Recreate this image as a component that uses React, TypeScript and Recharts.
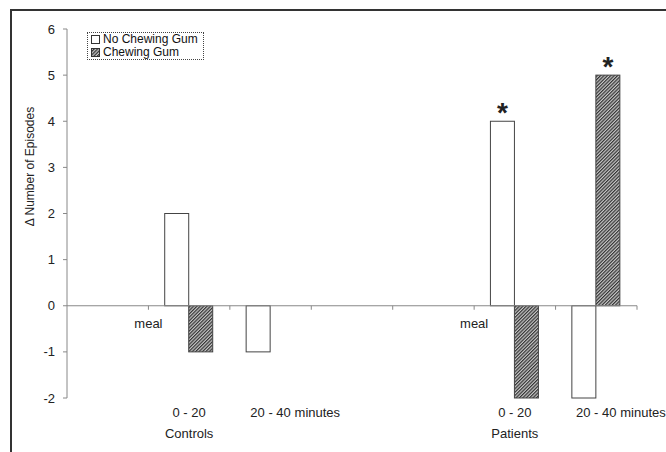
import { BarChart, Bar, XAxis, YAxis, ReferenceLine, Legend, Label } from 'recharts';

const FONT = '"Liberation Sans", Arial, sans-serif';

// one slot per x-axis band; empty slots keep the spacing of the original figure
const periods = ['', '0 - 20', '20 - 40', '', '', '0 - 20', '20 - 40'];
const periodSuffix = ['', '', 'minutes', '', '', '', 'minutes'];
const groups = ['', 'Controls', '', '', '', 'Patients', ''];
const mealBefore = [false, true, false, false, false, true, false];

const noGum = [null, 2, -1, null, null, 4, -2];
const gum = [null, -1, 0, null, null, -2, 5];
const noGumStar = [false, false, false, false, false, true, false];
const gumStar = [false, false, false, false, false, false, true];

const yTicks = [-2, -1, 0, 1, 2, 3, 4, 5, 6];

const chartData = periods.map((p, i) => ({
  slot: i,
  period: p,
  noGum: noGum[i],
  gum: gum[i],
}));

const PeriodTick = ({ x, y, index }: any) => (
  <g fontFamily={FONT} fontSize={13} fill="#222">
    {periods[index] && (
      <text x={x} y={y + 19} textAnchor="middle">
        {periods[index]}
      </text>
    )}
    {periodSuffix[index] && (
      <text x={x + 24} y={y + 19} textAnchor="start">
        {periodSuffix[index]}
      </text>
    )}
    {groups[index] && (
      <text x={x} y={y + 40} textAnchor="middle">
        {groups[index]}
      </text>
    )}
  </g>
);

// zero line with the band boundary ticks and the "meal" markers
const ZeroAxis = (props: any) => {
  const { x1, x2, y1 } = props;
  const step = (x2 - x1) / chartData.length;
  return (
    <g>
      <line x1={x1} x2={x2} y1={y1} y2={y1} stroke="#888" />
      {chartData.map((d, i) => (
        <line key={i} x1={x1 + (i + 1) * step} x2={x1 + (i + 1) * step} y1={y1} y2={y1 + 4} stroke="#888" />
      ))}
      {mealBefore.map((m, i) =>
        m ? (
          <text key={'m' + i} x={x1 + i * step} y={y1 + 22} textAnchor="middle" fontFamily={FONT} fontSize={13} fill="#222">
            meal
          </text>
        ) : null
      )}
    </g>
  );
};

// bar rectangle plus an asterisk above the significant ones
const makeBarShape = (flags: boolean[]) => (props: any) => {
  const { x, y, width, height, fill, stroke, payload } = props;
  if (x == null || y == null || !height) return <g />;
  const slot = payload ? payload.slot : props.index;
  const top = Math.min(y, y + height);
  const h = Math.abs(height);
  return (
    <g>
      <rect x={x} y={top} width={width} height={h} fill={fill} stroke={stroke} />
      {flags[slot] && (
        <text x={x + width / 2} y={top + 1} textAnchor="middle" fontFamily={FONT} fontSize={28} fontWeight="bold" fill="#222">
          *
        </text>
      )}
    </g>
  );
};

const YLabel = ({ viewBox }: any) => {
  const cx = viewBox.x + 30;
  const cy = viewBox.y + viewBox.height / 2 - 47;
  return (
    <text x={cx} y={cy} transform={`rotate(-90 ${cx} ${cy})`} textAnchor="middle" dominantBaseline="central" fontFamily={FONT} fontSize={12} fill="#222">
      Δ Number of Episodes
    </text>
  );
};

const legendItems = [
  { label: 'No Chewing Gum', fill: '#fff' },
  { label: 'Chewing Gum', fill: 'url(#hatchSmall)' },
];

const HatchDef = ({ id }: { id: string }) => (
  <pattern id={id} patternUnits="userSpaceOnUse" width={2.4} height={2.4} patternTransform="rotate(45)">
    <rect width={2.4} height={2.4} fill="#c8c8c8" />
    <line x1={0.6} y1={0} x2={0.6} y2={2.4} stroke="#333" strokeWidth={1.2} />
  </pattern>
);

const GumLegend = () => (
  <div style={{ border: '1px dotted #444', padding: '0px 5px 0px 3px', fontFamily: FONT, fontSize: 12, lineHeight: '13px', color: '#111', background: '#fff' }}>
    <svg width={0} height={0} style={{ position: 'absolute' }}>
      <defs>
        <HatchDef id="hatchSmall" />
      </defs>
    </svg>
    {legendItems.map((it) => (
      <div key={it.label} style={{ display: 'flex', alignItems: 'center', whiteSpace: 'nowrap', height: 13 }}>
        <svg width={9} height={9} style={{ marginRight: 3 }}>
          <rect x={0.5} y={0.5} width={8} height={8} fill={it.fill} stroke="#333" />
        </svg>
        {it.label}
      </div>
    ))}
  </div>
);

export default function App() {
  return (
    <div style={{ position: 'absolute', left: 0, top: 0, width: 666, height: 452, overflow: 'hidden', background: '#fff' }}>
      <div style={{ position: 'absolute', left: 10, top: 9, width: 700, height: 500, borderTop: '2px solid #333', borderLeft: '2px solid #333' }} />
      <div style={{ position: 'absolute', left: 0, top: 0 }}>
        <BarChart
          width={666}
          height={452}
          data={chartData}
          margin={{ top: 29, right: 29, bottom: 0, left: 0 }}
          barCategoryGap="20%"
          barGap={0}
        >
          <defs>
            <HatchDef id="hatch" />
          </defs>
          <XAxis dataKey="slot" axisLine={false} tickLine={false} tickSize={0} tickMargin={0} height={54} interval={0} tick={<PeriodTick />} />
          <YAxis
            domain={[-2, 6]}
            ticks={yTicks}
            interval={0}
            width={67}
            tickSize={4}
            tickMargin={8}
            axisLine={{ stroke: '#888' }}
            tickLine={{ stroke: '#888' }}
            tick={{ fill: '#222', fontSize: 13, fontFamily: FONT }}
          >
            <Label content={<YLabel />} />
          </YAxis>
          <ReferenceLine y={0} shape={<ZeroAxis />} />
          <Legend
            layout="horizontal"
            verticalAlign="middle"
            align="center"
            wrapperStyle={{ left: 87, top: 32, width: 'auto', height: 'auto' }}
            content={<GumLegend />}
          />
          <Bar dataKey="noGum" name="No Chewing Gum" fill="#fff" stroke="#444" isAnimationActive={false} shape={makeBarShape(noGumStar)} />
          <Bar dataKey="gum" name="Chewing Gum" fill="url(#hatch)" stroke="#444" isAnimationActive={false} shape={makeBarShape(gumStar)} />
        </BarChart>
      </div>
    </div>
  );
}
